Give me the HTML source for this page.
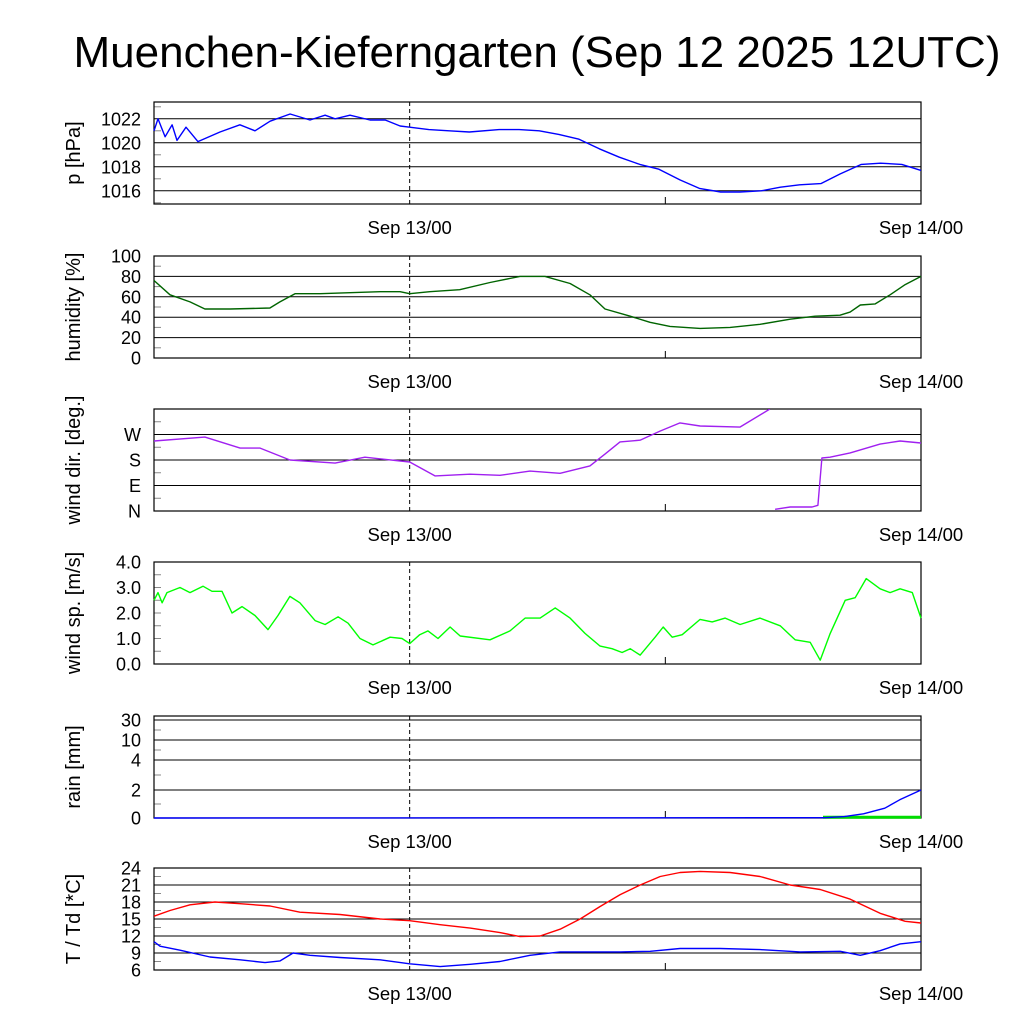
<!DOCTYPE html>
<html><head><meta charset="utf-8"><style>
html,body{margin:0;padding:0;background:#fff}
svg{display:block;font-family:"Liberation Sans",sans-serif}
</style></head><body>
<svg id="c" width="1024" height="1024" xmlns="http://www.w3.org/2000/svg">
<text x="537" y="67" font-size="44" text-anchor="middle">Muenchen-Kieferngarten (Sep 12 2025 12UTC)</text>
</svg>
<script>
// time in hours since Sep 12 12UTC
const pTime=[0,0.19,0.52,0.85,1.08,1.5,2.06,3.1,4.03,4.74,5.45,6.39,7.32,8.03,8.5,9.2,10.14,10.85,11.55,12,12.9,13.85,14.8,16.2,17.14,18.08,19.0,19.95,20.9,21.84,22.8,23.7,24.7,25.6,26.6,27.5,28.5,29.4,30.3,31.3,32.2,33.2,34.1,35.1,36];
const pVal=[1021,1022,1020.5,1021.5,1020.2,1021.3,1020.1,1020.9,1021.5,1021.0,1021.8,1022.4,1021.9,1022.3,1022.0,1022.3,1021.9,1021.9,1021.4,1021.3,1021.1,1021.0,1020.9,1021.1,1021.1,1021.0,1020.7,1020.3,1019.5,1018.8,1018.2,1017.8,1016.9,1016.2,1015.9,1015.9,1016.0,1016.3,1016.5,1016.6,1017.4,1018.2,1018.3,1018.2,1017.7];
const hTime=[0,0.75,1.69,2.39,3.57,5.44,5.91,6.62,7.79,9.2,10.61,11.55,12,12.94,14.35,15.77,17.18,18.35,19.53,20.46,21.17,22.35,23.28,24.22,25.63,27.04,28.45,29.86,31.03,32.2,32.67,33.15,33.85,34.55,35.26,36];
const hVal=[76,62,55,48,48,49,55,63,63,64,65,65,63,65,67,74,80,80,73,62,48,41,35,31,29,30,33,38,41,42,45,52,53,62,72,80];
const dTime=[0,2.39,4.04,4.98,6.38,8.5,9.9,12,13.19,14.83,16.24,17.65,19.06,20.46,21.17,21.87,22.81,23.75,24.69,25.63,27.5,28.91,29.15,29.86,30.89,31.16,31.35,31.73,32.67,34.08,35.02,36];
const dVal=[247,261,222,222,180,169,190,173,124,130,126,141,133,159,201,244,250,282,311,300,296,360,6,14,14,20,187,190,205,236,247,240];
const sTime=[0,.19,.38,.61,1.22,1.69,2.3,2.72,3.19,3.66,4.13,4.74,5.35,5.82,6.38,6.85,7.56,8.03,8.64,9.11,9.67,10.28,11.08,11.64,12,12.47,12.86,13.33,13.9,14.37,15.77,16.71,17.42,18.12,18.83,19.53,20.23,20.94,21.5,21.97,22.35,22.82,23.52,23.9,24.32,24.79,25.63,26.2,26.81,27.51,28.45,29.39,30.09,30.8,31.27,31.74,32.44,32.91,33.43,34.08,34.55,35.02,35.59,36];
const sVal=[2.5,2.8,2.4,2.8,3.0,2.8,3.05,2.85,2.85,2.0,2.25,1.9,1.35,1.9,2.65,2.4,1.7,1.55,1.85,1.6,1.0,0.75,1.05,1.0,0.8,1.15,1.3,1.0,1.45,1.1,0.95,1.3,1.8,1.8,2.2,1.8,1.2,0.7,0.6,0.45,0.6,0.35,1.05,1.45,1.05,1.15,1.75,1.65,1.8,1.55,1.8,1.5,0.95,0.85,0.15,1.2,2.5,2.6,3.35,2.95,2.8,2.95,2.8,1.8];
const rTime=[0,31.5,32.4,33.3,34.3,35,36];
const rVal=[0,0.02,0.1,0.3,0.7,1.3,2.0];
const rrTime=[31.4,36];
const rrVal=[0.05,0.05];
const tTime=[0,.75,1.69,2.86,4.04,5.45,6.85,8.73,10.61,12,13.43,14.84,16.24,17.18,18.12,19.06,20,20.94,21.88,22.82,23.76,24.69,25.63,27.04,28.45,29.86,31.27,32.68,34.08,35.26,36];
const tVal=[15.5,16.5,17.5,18,17.7,17.3,16.2,15.8,15.0,14.7,14.0,13.4,12.6,11.9,12.0,13.2,15.0,17.2,19.3,21.0,22.5,23.2,23.4,23.2,22.5,21.0,20.2,18.5,16.0,14.6,14.3];
const tdTime=[0,.28,1.22,2.63,4.04,5.21,5.92,6.53,7.32,8.73,10.61,12,13.43,14.84,16.24,17.65,19.06,20.47,21.88,23.29,24.69,26.57,28.45,30.33,32.21,33.15,34.08,35.02,36];
const tdVal=[11,10.2,9.5,8.3,7.8,7.3,7.6,9.0,8.6,8.2,7.8,7.1,6.6,7.0,7.5,8.6,9.2,9.2,9.2,9.3,9.8,9.8,9.6,9.2,9.3,8.6,9.4,10.6,11.0];
const rainTicks=[0,2,4,10,30];
const xTickLabels=["Sep 13/00","Sep 14/00"];

const svg=document.getElementById('c');
const NS='http://www.w3.org/2000/svg';
const X0=154,X1=921,TSPAN=36;
const xs=t=>X0+(X1-X0)*t/TSPAN;
function mk(tag,attrs,parent){const e=document.createElementNS(NS,tag);for(const k in attrs)e.setAttribute(k,attrs[k]);(parent||svg).appendChild(e);return e;}

function panel(name,top,bot,ymap,grid,labels,title,minor){
  const g=mk('g',{});
  
  
  grid.forEach(v=>{const y=ymap(v);const l=mk('line',{x1:X0,x2:X1,y1:y,y2:y,stroke:'#000','stroke-width':1},g);
    
    });
  (minor||[]).forEach(v=>{const y=ymap(v);mk('line',{x1:X0,x2:X0+7,y1:y,y2:y,stroke:'#888','stroke-width':1},g);});
  labels.forEach(([v,s])=>{const t=mk('text',{x:X0-13,y:ymap(v)+6.5,'font-size':18,'text-anchor':'end'},g);t.textContent=s;
    
    });
  mk('rect',{x:X0,y:top,width:X1-X0,height:bot-top,fill:'none',stroke:'#000','stroke-width':1.2},g);
  const d=mk('line',{x1:xs(12),x2:xs(12),y1:top,y2:bot,stroke:'#000','stroke-width':1,'stroke-dasharray':'4,3'},g);
  
  
  mk('line',{x1:xs(24),x2:xs(24),y1:bot-7,y2:bot,stroke:'#000'},g);
  [12,36].forEach((t,i)=>{const tx=mk('text',{x:xs(t),y:bot+30,'font-size':18.5,'text-anchor':'middle'},g);tx.textContent=xTickLabels[i];
    
    });
  const cy=(top+bot)/2;
  const at=mk('text',{x:0,y:0,'font-size':20,'text-anchor':'middle',transform:`translate(80,${cy}) rotate(-90)`},g);
  at.textContent=title;
  
  
  return g;
}
function line(g,name,T,V,ymap,color,w,brk){
  let d='',prev=null;
  T.forEach((t,i)=>{const y=ymap(V[i]);const cmd=(prev===null||(brk&&Math.abs(V[i]-prev)>180))?'M':'L';d+=cmd+xs(t).toFixed(1)+','+y.toFixed(1)+' ';prev=V[i];});
  const p=mk('path',{d:d,fill:'none',stroke:color,'stroke-width':w||1.4,'stroke-linejoin':'round'},g);
  
  
}
function lin(top,bot,v0,v1){return v=>bot-(v-v0)/(v1-v0)*(bot-top);}

let ym=lin(102,204,1014.9,1023.4);
let g=panel('pressure',102,204,ym,[1016,1018,1020,1022],[[1016,'1016'],[1018,'1018'],[1020,'1020'],[1022,'1022']],'p [hPa]',[1015,1017,1019,1021,1023]);
line(g,'pressure-line',pTime,pVal,ym,'#0000ff');
ym=lin(256,358,0,100);
g=panel('humidity',256,358,ym,[20,40,60,80],[[0,'0'],[20,'20'],[40,'40'],[60,'60'],[80,'80'],[100,'100']],'humidity [%]',[10,30,50,70,90]);
line(g,'humidity-line',hTime,hVal,ym,'#006400');
ym=lin(409,511,0,360);
g=panel('winddir',409,511,ym,[90,180,270],[[0,'N'],[90,'E'],[180,'S'],[270,'W']],'wind dir. [deg.]',[45,135,225,315]);
const cp=mk('clipPath',{id:'cl'});mk('rect',{x:X0,y:409,width:X1-X0,height:102},cp);
const gg=mk('g',{'clip-path':'url(#cl)'},g);
line(gg,'wind-direction-line',dTime,dVal,ym,'#a020f0',1.4,true);
ym=lin(562,664,0,4);
g=panel('windspeed',562,664,ym,[],[[0,'0.0'],[1,'1.0'],[2,'2.0'],[3,'3.0'],[4,'4.0']],'wind sp. [m/s]',[0.5,1,1.5,2,2.5,3,3.5]);
line(g,'wind-speed-line',sTime,sVal,ym,'#00ff00');
const rainY=[818,790,760,740,720];
ym=v=>{for(let i=1;i<rainTicks.length;i++){if(v<=rainTicks[i]){const a=rainTicks[i-1],b=rainTicks[i];return rainY[i-1]+(v-a)/(b-a)*(rainY[i]-rainY[i-1]);}}return 720;};
g=panel('rain',716,818,ym,[2,4,10,30],rainTicks.map(v=>[v,String(v)]),'rain [mm]',[1,3,7,20]);
line(g,'rain-rate-line',rrTime,rrVal,ym,'#00dd00',3);
line(g,'rain-sum-line',rTime,rVal,ym,'#0000ff');
ym=lin(868,970,6,24);
g=panel('temperature',868,970,ym,[9,12,15,18,21],[[6,'6'],[9,'9'],[12,'12'],[15,'15'],[18,'18'],[21,'21'],[24,'24']],'T / Td [*C]',[7.5,10.5,13.5,16.5,19.5,22.5]);
line(g,'temperature-line',tTime,tVal,ym,'#ff0000');
line(g,'dewpoint-line',tdTime,tdVal,ym,'#0000ff');
</script>
</body></html>
